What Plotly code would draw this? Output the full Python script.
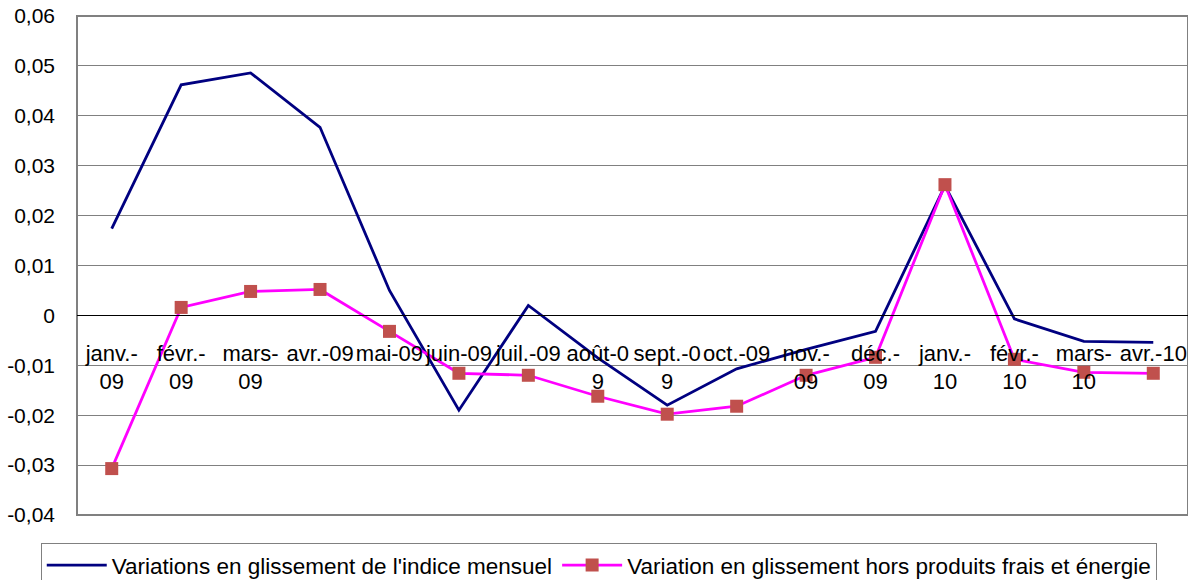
import plotly.graph_objects as go

categories = ["janv.-<br>09", "févr.-<br>09", "mars-<br>09", "avr.-09", "mai-09", "juin-09",
              "juil.-09", "août-0<br>9", "sept.-0<br>9", "oct.-09", "nov.-<br>09", "déc.-<br>09",
              "janv.-<br>10", "févr.-<br>10", "mars-<br>10", "avr.-10"]
indice_mensuel = [0.0174, 0.0462, 0.0486, 0.0377, 0.0050, -0.0190, 0.0020, -0.0085,
                  -0.0180, -0.0107, -0.0068, -0.0032, 0.0260, -0.0007, -0.0052, -0.0054]
hors_frais_energie = [-0.0307, 0.0016, 0.0048, 0.0052, -0.0032, -0.0116, -0.0120, -0.0162,
                      -0.0198, -0.0182, -0.0120, -0.0084, 0.0262, -0.0088, -0.0114, -0.0116]
y_tickvals = [-0.04, -0.03, -0.02, -0.01, 0, 0.01, 0.02, 0.03, 0.04, 0.05, 0.06]
y_ticktext = ["-0,04", "-0,03", "-0,02", "-0,01", "0", "0,01", "0,02", "0,03", "0,04", "0,05", "0,06"]

x = list(range(len(categories)))

fig = go.Figure()
fig.add_trace(go.Scatter(
    x=x, y=indice_mensuel, mode="lines",
    name="Variations en glissement de l'indice mensuel",
    line=dict(color="#000080", width=2.8),
))
fig.add_trace(go.Scatter(
    x=x, y=hors_frais_energie, mode="lines+markers",
    name="Variation en glissement hors produits frais et énergie",
    line=dict(color="#FF00FF", width=2.8),
    marker=dict(symbol="square", size=13, color="#C0504D"),
))

fig.update_layout(
    width=1188, height=580,
    margin=dict(l=77, r=0, t=16, b=65, autoexpand=False),
    paper_bgcolor="white", plot_bgcolor="white",
    font=dict(family="Liberation Sans, Arial, sans-serif", size=21, color="black"),
    showlegend=True,
    legend=dict(orientation="h", xref="container", x=0.504, xanchor="center",
                y=-0.056, yanchor="top",
                bordercolor="#808080", borderwidth=1, font=dict(size=22.5),
                itemwidth=60, tracegroupgap=0),
    xaxis=dict(
        tickmode="array", tickvals=x, ticktext=categories,
        range=[-0.5, len(categories) - 0.5],
        anchor="free", position=0.4,
        showline=True, linecolor="black", linewidth=1,
        showgrid=False, ticks="", zeroline=False, automargin=False,
        tickfont=dict(size=22), ticklabelstandoff=18,
    ),
    yaxis=dict(
        range=[-0.04, 0.06], domain=[0, 1],
        tickmode="array", tickvals=y_tickvals, ticktext=y_ticktext,
        showgrid=True, gridcolor="#808080", gridwidth=1,
        zeroline=False, showline=False, ticks="", automargin=False,
        tickfont=dict(size=21), ticklabelstandoff=21,
    ),
    shapes=[dict(type="rect", xref="paper", yref="paper", x0=0, y0=0, x1=1, y1=1,
                 line=dict(color="#808080", width=2), layer="below")],
)

fig.write_html("out.html", config={"displayModeBar": False},
               post_script="document.body.style.margin='0px';document.body.style.overflow='hidden';")
